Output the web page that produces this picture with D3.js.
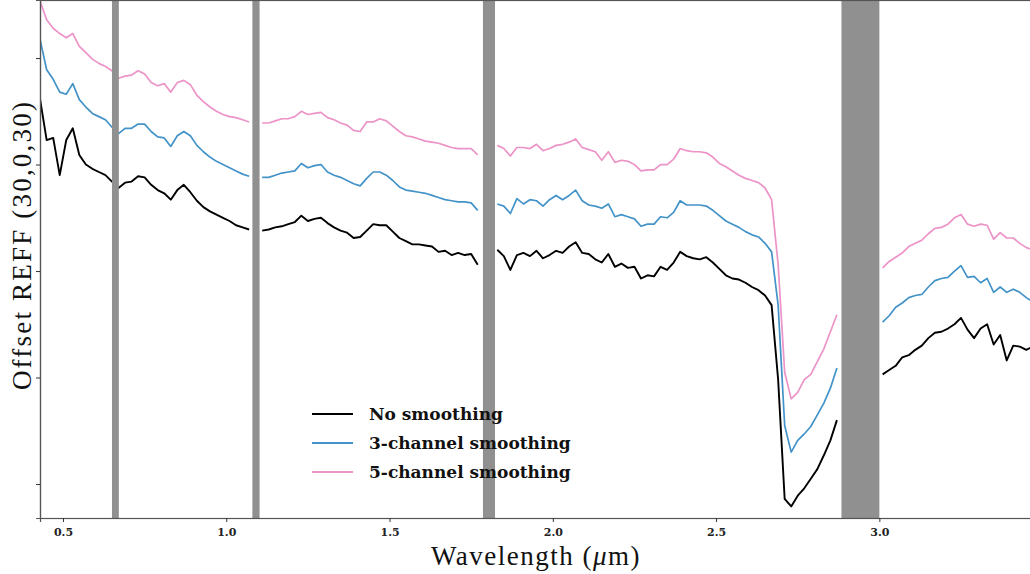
<!DOCTYPE html>
<html>
<head>
<meta charset="utf-8">
<script src="https://cdn.jsdelivr.net/npm/d3@7"></script>
<style>
  body { margin: 0; background: #fff; }
  svg { display: block; }
</style>
</head>
<body>
<svg id="chart"></svg>
<script>
const width = 1030, height = 574;

// wavelength grid (µm)
const wavelength = [
  0.43, 0.45, 0.47, 0.49, 0.51, 0.53, 0.55, 0.57, 0.59, 0.61,
  0.63, 0.65, 0.67, 0.69, 0.71, 0.73, 0.75, 0.77, 0.79, 0.81,
  0.83, 0.85, 0.87, 0.89, 0.91, 0.93, 0.95, 0.97, 0.99, 1.01,
  1.03, 1.05, 1.07, 1.09, 1.11, 1.13, 1.15, 1.17, 1.19, 1.21,
  1.23, 1.25, 1.27, 1.29, 1.31, 1.33, 1.35, 1.37, 1.39, 1.41,
  1.43, 1.45, 1.47, 1.49, 1.51, 1.53, 1.55, 1.57, 1.59, 1.61,
  1.63, 1.65, 1.67, 1.69, 1.71, 1.73, 1.75, 1.77, 1.79, 1.81,
  1.83, 1.85, 1.87, 1.89, 1.91, 1.93, 1.95, 1.97, 1.99, 2.01,
  2.03, 2.05, 2.07, 2.09, 2.11, 2.13, 2.15, 2.17, 2.19, 2.21,
  2.23, 2.25, 2.27, 2.29, 2.31, 2.33, 2.35, 2.37, 2.39, 2.41,
  2.43, 2.45, 2.47, 2.49, 2.51, 2.53, 2.55, 2.57, 2.59, 2.61,
  2.63, 2.65, 2.67, 2.69, 2.71, 2.73, 2.75, 2.77, 2.79, 2.81,
  2.83, 2.85, 2.87, 2.89, 2.91, 2.93, 2.95, 2.97, 2.99, 3.01,
  3.03, 3.05, 3.07, 3.09, 3.11, 3.13, 3.15, 3.17, 3.19, 3.21,
  3.23, 3.25, 3.27, 3.29, 3.31, 3.33, 3.35, 3.37, 3.39, 3.41,
  3.43, 3.45, 3.47
];

const noSmoothing = [
  0.461, 0.423, 0.425, 0.390, 0.423, 0.434, 0.409, 0.400, 0.396, 0.393,
  0.390, 0.384, 0.378, 0.383, 0.384, 0.389, 0.388, 0.381, 0.376, 0.373,
  0.367, 0.376, 0.381, 0.374, 0.366, 0.360, 0.356, 0.353, 0.350, 0.347,
  0.343, 0.341, 0.339, null, 0.338, 0.339, 0.341, 0.342, 0.344, 0.346,
  0.352, 0.347, 0.349, 0.350, 0.345, 0.341, 0.338, 0.336, 0.331, 0.332,
  0.338, 0.344, 0.343, 0.343, 0.337, 0.331, 0.328, 0.325, 0.325, 0.324,
  0.323, 0.318, 0.319, 0.315, 0.317, 0.315, 0.316, 0.306, null, null,
  0.320, 0.314, 0.301, 0.315, 0.317, 0.314, 0.319, 0.312, 0.315, 0.319,
  0.317, 0.323, 0.327, 0.317, 0.316, 0.311, 0.308, 0.316, 0.304, 0.307,
  0.303, 0.304, 0.293, 0.296, 0.295, 0.304, 0.301, 0.308, 0.318, 0.314,
  0.312, 0.311, 0.313, 0.308, 0.302, 0.296, 0.293, 0.292, 0.289, 0.285,
  0.282, 0.277, 0.268, 0.198, 0.086, 0.079, 0.089, 0.096, 0.105, 0.114,
  0.127, 0.141, 0.160, null, null, null, null, null, null, 0.203,
  0.207, 0.211, 0.219, 0.221, 0.226, 0.230, 0.237, 0.242, 0.243, 0.246,
  0.250, 0.256, 0.245, 0.237, 0.246, 0.250, 0.231, 0.240, 0.216, 0.230,
  0.229, 0.226, 0.229
];

const smooth3 = [
  0.517, 0.489, 0.480, 0.468, 0.466, 0.476, 0.461, 0.454, 0.448, 0.445,
  0.442, 0.435, 0.429, 0.434, 0.434, 0.438, 0.438, 0.431, 0.426, 0.425,
  0.417, 0.427, 0.431, 0.427, 0.418, 0.412, 0.407, 0.403, 0.400, 0.397,
  0.394, 0.391, 0.389, null, 0.388, 0.388, 0.390, 0.392, 0.393, 0.394,
  0.401, 0.397, 0.399, 0.400, 0.393, 0.390, 0.388, 0.385, 0.382, 0.380,
  0.387, 0.393, 0.393, 0.390, 0.385, 0.379, 0.376, 0.375, 0.374, 0.373,
  0.371, 0.369, 0.367, 0.366, 0.365, 0.365, 0.364, 0.357, null, null,
  0.363, 0.361, 0.354, 0.368, 0.363, 0.367, 0.366, 0.361, 0.367, 0.371,
  0.367, 0.371, 0.376, 0.366, 0.362, 0.361, 0.359, 0.363, 0.351, 0.353,
  0.351, 0.349, 0.342, 0.344, 0.344, 0.351, 0.350, 0.355, 0.366, 0.362,
  0.362, 0.362, 0.361, 0.357, 0.352, 0.347, 0.344, 0.341, 0.337, 0.334,
  0.332, 0.326, 0.318, 0.268, 0.155, 0.130, 0.141, 0.147, 0.154, 0.165,
  0.176, 0.190, 0.209, null, null, null, null, null, null, 0.252,
  0.258, 0.266, 0.270, 0.275, 0.277, 0.278, 0.285, 0.291, 0.293, 0.294,
  0.300, 0.305, 0.294, 0.295, 0.289, 0.293, 0.280, 0.285, 0.280, 0.283,
  0.280, 0.275, 0.271
];

const smooth5 = [
  0.553, 0.536, 0.528, 0.523, 0.519, 0.523, 0.511, 0.505, 0.499, 0.495,
  0.492, 0.488, 0.481, 0.483, 0.484, 0.488, 0.485, 0.477, 0.474, 0.476,
  0.468, 0.477, 0.479, 0.475, 0.465, 0.459, 0.454, 0.450, 0.447, 0.445,
  0.444, 0.442, 0.440, null, 0.439, 0.439, 0.441, 0.443, 0.443, 0.445,
  0.450, 0.447, 0.448, 0.449, 0.444, 0.442, 0.439, 0.437, 0.432, 0.431,
  0.440, 0.440, 0.443, 0.441, 0.436, 0.431, 0.427, 0.426, 0.424, 0.422,
  0.421, 0.420, 0.418, 0.416, 0.415, 0.415, 0.415, 0.409, null, null,
  0.418, 0.415, 0.408, 0.416, 0.416, 0.415, 0.419, 0.413, 0.415, 0.418,
  0.419, 0.421, 0.424, 0.416, 0.414, 0.412, 0.404, 0.412, 0.402, 0.404,
  0.403, 0.400, 0.394, 0.395, 0.395, 0.400, 0.400, 0.405, 0.415, 0.413,
  0.412, 0.412, 0.411, 0.407, 0.401, 0.398, 0.394, 0.390, 0.387, 0.385,
  0.383, 0.378, 0.367, 0.306, 0.205, 0.180, 0.186, 0.198, 0.203, 0.215,
  0.227, 0.243, 0.259, null, null, null, null, null, null, 0.303,
  0.309, 0.313, 0.317, 0.323, 0.326, 0.329, 0.335, 0.340, 0.341, 0.344,
  0.350, 0.353, 0.344, 0.342, 0.344, 0.343, 0.330, 0.336, 0.331, 0.331,
  0.326, 0.322, 0.320
];

// masked wavelength ranges (µm)
const bands = [[0.650, 0.671], [1.080, 1.102], [1.786, 1.823], [2.884, 3.000]];

const xTicks = [0.5, 1.0, 1.5, 2.0, 2.5, 3.0];
const yTicks = [0.1, 0.2, 0.3, 0.4, 0.5];

const seriesNames = ["No smoothing", "3-channel smoothing", "5-channel smoothing"];
const seriesColors = ["#000000", "#4393c8", "#ec93c8"];
const seriesValues = [noSmoothing, smooth3, smooth5];

const plotLeft = 40, plotRight = 1035, plotTop = 0, plotBottom = 518;

const svg = d3.select("#chart").attr("width", width).attr("height", height);

const x = d3.scaleLinear().domain([0.4296, 3.4766]).range([plotLeft, plotRight]);
const y = d3.scaleLinear().domain([0.0681, 0.5545]).range([plotBottom, plotTop]);

svg.append("clipPath").attr("id", "plot-clip")
  .append("rect")
  .attr("x", plotLeft).attr("y", plotTop)
  .attr("width", plotRight - plotLeft).attr("height", plotBottom - plotTop);

const line = d3.line()
  .defined(d => d[1] != null)
  .x(d => x(d[0]))
  .y(d => y(d[1]));

const lines = svg.append("g").attr("clip-path", "url(#plot-clip)");

// draw pink first so black sits on top
[2, 1, 0].forEach(i => {
  lines.append("path")
    .datum(wavelength.map((w, j) => [w, seriesValues[i][j]]))
    .attr("fill", "none")
    .attr("stroke", seriesColors[i])
    .attr("stroke-width", i === 0 ? 1.9 : 1.7)
    .attr("stroke-linejoin", "round")
    .attr("d", line);
});

svg.append("g")
  .selectAll("rect")
  .data(bands)
  .enter().append("rect")
  .attr("x", d => x(d[0]))
  .attr("y", plotTop)
  .attr("width", d => x(d[1]) - x(d[0]))
  .attr("height", plotBottom - plotTop)
  .attr("fill", "#909090");

// frame
svg.append("rect")
  .attr("x", plotLeft + 0.5).attr("y", plotTop + 0.5)
  .attr("width", plotRight - plotLeft).attr("height", plotBottom - plotTop)
  .attr("fill", "none")
  .attr("stroke", "#555")
  .attr("stroke-width", 1.2);

const xAxis = svg.append("g")
  .attr("transform", `translate(0,${plotBottom})`)
  .call(d3.axisBottom(x).tickValues(xTicks).tickFormat(d3.format(".1f")).tickSize(4).tickPadding(6));

const yAxis = svg.append("g")
  .attr("transform", `translate(${plotLeft},0)`)
  .call(d3.axisLeft(y).tickValues(yTicks).tickFormat("").tickSize(4));

[xAxis, yAxis].forEach(g => {
  g.select(".domain").attr("stroke", "#555").attr("stroke-width", 1.2);
  g.selectAll(".tick line").attr("stroke", "#333");
});

xAxis.selectAll(".tick text")
  .attr("font-family", "DejaVu Serif")
  .attr("font-weight", "bold")
  .attr("font-size", 11)
  .attr("fill", "#222");

const xLabel = svg.append("text")
  .attr("x", 536).attr("y", 565)
  .attr("text-anchor", "middle")
  .attr("font-family", "Liberation Serif")
  .attr("font-size", 27)
  .attr("letter-spacing", 1.5)
  .attr("fill", "#111");
xLabel.append("tspan").text("Wavelength (");
xLabel.append("tspan").attr("font-style", "italic").text("μ");
xLabel.append("tspan").text("m)");

svg.append("text")
  .attr("transform", "translate(31,245) rotate(-90)")
  .attr("text-anchor", "middle")
  .attr("font-family", "Liberation Serif")
  .attr("font-size", 27)
  .attr("letter-spacing", 2.2)
  .attr("fill", "#111")
  .text("Offset REFF (30,0,30)");

const legend = svg.append("g");
seriesNames.forEach((name, i) => {
  const ly = 414 + i * 29;
  legend.append("line")
    .attr("x1", 312).attr("x2", 353)
    .attr("y1", ly).attr("y2", ly)
    .attr("stroke", seriesColors[i])
    .attr("stroke-width", 1.8);
  legend.append("text")
    .attr("x", 369).attr("y", ly + 6)
    .attr("font-family", "DejaVu Serif")
    .attr("font-weight", "bold")
    .attr("font-size", 17)
    .attr("fill", "#111")
    .text(name);
});
</script>
</body>
</html>
